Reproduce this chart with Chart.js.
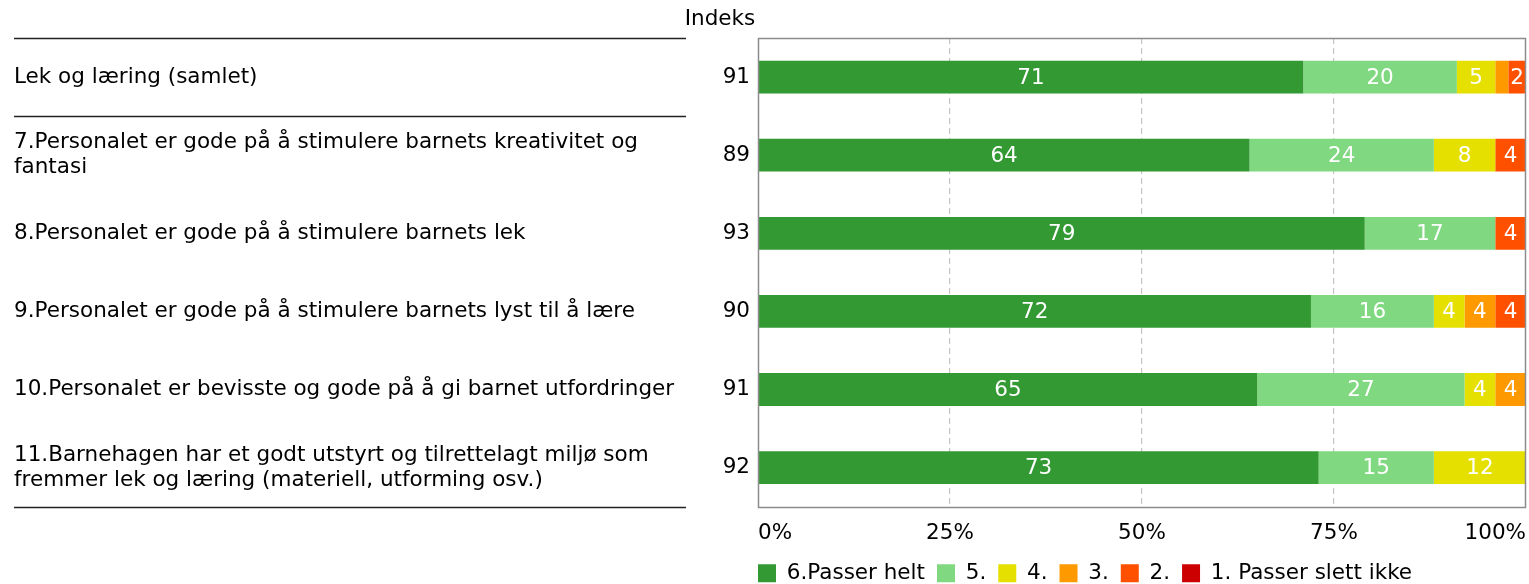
<!DOCTYPE html>
<html>
<head>
<meta charset="utf-8">
<script src="https://cdn.jsdelivr.net/npm/chart.js@4/dist/chart.umd.min.js"></script>
<style>
  html, body { margin: 0; padding: 0; background: #fff; }
  #wrap { width: 1529px; height: 584px; position: relative; }
</style>
</head>
<body>
<div id="wrap"><canvas id="chart"></canvas></div>
<script>
// Questions (left column)
const categories = [
  ["Lek og læring (samlet)"],
  ["7.Personalet er gode på å stimulere barnets kreativitet og", "fantasi"],
  ["8.Personalet er gode på å stimulere barnets lek"],
  ["9.Personalet er gode på å stimulere barnets lyst til å lære"],
  ["10.Personalet er bevisste og gode på å gi barnet utfordringer"],
  ["11.Barnehagen har et godt utstyrt og tilrettelagt miljø som", "fremmer lek og læring (materiell, utforming osv.)"],
];
const indexValues = [91, 89, 93, 90, 91, 92];

// Answer shares in percent
const passerHelt = [71, 64, 79, 72, 65, 73];
const svar5 = [20, 24, 17, 16, 27, 15];
const svar4 = [5, 8, 0, 4, 4, 12];
const svar3 = [1.7, 0, 0, 4, 4, 0];
const svar2 = [2.3, 4, 4, 4, 0, 0];
const passerSlettIkke = [0, 0, 0, 0, 0, 0];

const xTicks = [0, 25, 50, 75, 100];

const FONT = "'DejaVu Sans', Verdana, sans-serif";
const FS = 21.5;
const PLOT_LEFT = 758;
const LEGEND_PAD = 12;

// Left labels, index column and separator lines
const sidePanel = {
  id: "sidePanel",
  afterLayout(chart) {
    // legend flush with the plot and pulled up a bit
    if (chart.legend) {
      chart.legend.left = PLOT_LEFT - LEGEND_PAD;
      chart.legend.top -= 10;
    }
  },
  afterDraw(chart) {
    const ctx = chart.ctx;
    const area = chart.chartArea;
    const y = chart.scales.y;
    ctx.save();
    ctx.font = FS + "px " + FONT;
    ctx.fillStyle = "#000";
    ctx.textBaseline = "middle";

    ctx.textAlign = "center";
    ctx.fillText("Indeks", 720, 19);

    categories.forEach((lines, i) => {
      const cy = y.getPixelForValue(i);
      const lh = 25;
      const y0 = cy - ((lines.length - 1) * lh) / 2;
      ctx.textAlign = "left";
      lines.forEach((t, k) => ctx.fillText(t, 14, y0 + k * lh));
      ctx.textAlign = "right";
      ctx.fillText(String(indexValues[i]), 750, cy);
    });

    // separators: top, after the summary row, bottom
    const half = (y.getPixelForValue(1) - y.getPixelForValue(0)) / 2;
    const seps = [area.top, y.getPixelForValue(0) + half, area.bottom];
    ctx.strokeStyle = "#222";
    ctx.lineWidth = 1.5;
    seps.forEach((sy) => {
      const yy = Math.round(sy) + 0.5;
      ctx.beginPath();
      ctx.moveTo(14, yy);
      ctx.lineTo(686, yy);
      ctx.stroke();
    });

    // plot frame
    ctx.strokeStyle = "#8c8c8c";
    ctx.lineWidth = 1.5;
    ctx.strokeRect(Math.round(area.left) + 0.5, Math.round(area.top) + 0.5,
      Math.round(area.right - area.left) - 1, Math.round(area.bottom - area.top));
    ctx.restore();
  },
};

// White value labels inside the segments
const barLabels = {
  id: "barLabels",
  afterDatasetsDraw(chart) {
    const ctx = chart.ctx;
    ctx.save();
    ctx.font = FS + "px " + FONT;
    ctx.fillStyle = "#fff";
    ctx.textAlign = "center";
    ctx.textBaseline = "middle";
    chart.data.datasets.forEach((ds, di) => {
      const meta = chart.getDatasetMeta(di);
      meta.data.forEach((bar, i) => {
        const v = ds.data[i];
        if (!v || v < 2) return;
        ctx.fillText(String(Math.round(v)), (bar.x + bar.base) / 2, bar.y + 1);
      });
    });
    ctx.restore();
  },
};

const ctx = document.getElementById("chart").getContext("2d");
new Chart(ctx, {
  type: "bar",
  data: {
    labels: categories.map((c) => c.join(" ")),
    datasets: [
      { label: "6.Passer helt", data: passerHelt, backgroundColor: "#339933" },
      { label: "5.", data: svar5, backgroundColor: "#80d880" },
      { label: "4.", data: svar4, backgroundColor: "#e6e000" },
      { label: "3.", data: svar3, backgroundColor: "#ff9900" },
      { label: "2.", data: svar2, backgroundColor: "#ff5000" },
      { label: "1. Passer slett ikke", data: passerSlettIkke, backgroundColor: "#cc0000" },
    ],
  },
  options: {
    indexAxis: "y",
    responsive: true,
    maintainAspectRatio: false,
    animation: false,
    layout: {
      padding: { left: PLOT_LEFT, right: 3, top: 38, bottom: -20 },
    },
    datasets: {
      bar: {
        barPercentage: 0.42,
        categoryPercentage: 1,
        borderWidth: 0,
      },
    },
    plugins: {
      legend: {
        position: "bottom",
        align: "start",
        labels: {
          boxWidth: 18,
          boxHeight: 18,
          padding: LEGEND_PAD,
          color: "#000",
          font: { family: FONT, size: FS },
        },
      },
      tooltip: { enabled: false },
    },
    scales: {
      x: {
        stacked: true,
        min: 0,
        max: 100,
        afterBuildTicks: (axis) => {
          axis.ticks = xTicks.map((v) => ({ value: v }));
        },
        afterFit: (axis) => {
          axis.paddingLeft = 0;
          axis.paddingRight = 0;
        },
        ticks: {
          align: "inner",
          padding: 14,
          color: "#000",
          font: { family: FONT, size: FS },
          callback: (v) => v + "%",
        },
        grid: {
          drawTicks: false,
          lineWidth: 1.2,
          color: (c) => (c.tick && (c.tick.value === 0 || c.tick.value === 100) ? "rgba(0,0,0,0)" : "#c4c4c4"),
        },
        border: { display: false, dash: [6, 4] },
      },
      y: {
        display: false,
        stacked: true,
      },
    },
  },
  plugins: [sidePanel, barLabels],
});
</script>
</body>
</html>
